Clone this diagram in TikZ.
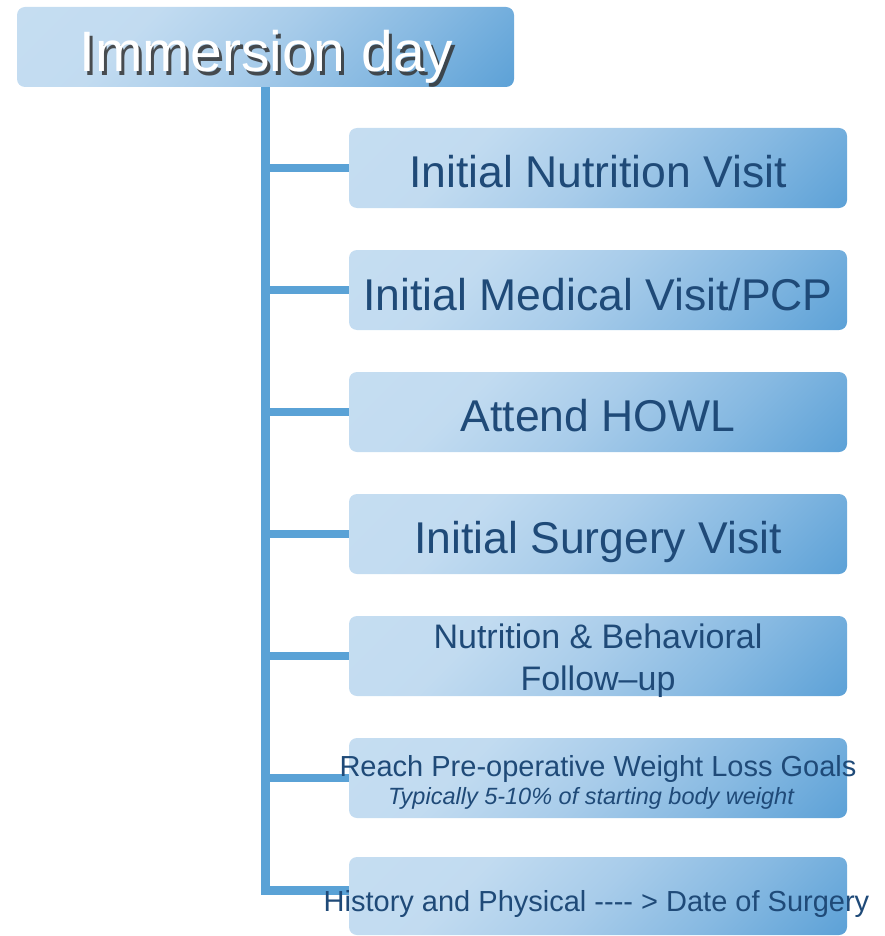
\documentclass[tikz,border=0pt]{standalone}
\usepackage{fontspec}
\setmainfont{Liberation Sans}
\definecolor{boxlight}{HTML}{C8DFF2}
\definecolor{boxmid}{HTML}{A8CCEA}
\definecolor{boxdark}{HTML}{559DD5}
\definecolor{linecol}{HTML}{5AA2D6}
\definecolor{txtcol}{HTML}{1F4A78}
\pgfdeclareverticalshading{boxshade}{100bp}{color(0bp)=(boxdark); color(15bp)=(boxdark!90!boxmid); color(33bp)=(boxdark!40!boxmid); color(50bp)=(boxmid); color(68bp)=(boxlight!80!boxmid); color(100bp)=(boxlight)}
\begin{document}
\begin{tikzpicture}[x=1pt,y=-1pt,
  box/.style={rounded corners=8pt, shading=boxshade, shading angle=45, minimum width=498pt, minimum height=80pt, inner sep=0pt, draw=none},
  conn/.style={draw=linecol, line width=9pt},
  stub/.style={draw=linecol, line width=8pt},
  bigtxt/.style={text=txtcol, font=\fontsize{44.5}{50}\selectfont, anchor=base, inner sep=0pt},
  midtxt/.style={text=txtcol, font=\fontsize{34}{42}\selectfont, anchor=base, inner sep=0pt},
  smltxt/.style={text=txtcol, font=\fontsize{29}{32}\selectfont, anchor=base, inner sep=0pt},
  ittxt/.style={text=txtcol, font=\fontsize{23.5}{26}\selectfont\itshape, anchor=base, inner sep=0pt},
  toptxt/.style={text=white, font=\fontsize{57}{62}\selectfont, anchor=base, inner sep=0pt},
  shadowtxt/.style={text=black!80, opacity=0.85, font=\fontsize{57}{62}\selectfont, anchor=base, inner sep=0pt}]
\useasboundingbox (0,0) rectangle (884,936);
% boxes
\node[box, minimum width=497pt] (top) at (265.5,47) {};
\node[box] (b1) at (598,168) {};
\node[box] (b2) at (598,290) {};
\node[box] (b3) at (598,412) {};
\node[box] (b4) at (598,534) {};
\node[box] (b5) at (598,656) {};
\node[box] (b6) at (598,778) {};
\node[box, minimum height=78pt] (b7) at (598,896) {};
% connectors
\draw[conn] (top.south) |- ([yshift=6pt]b7.west);
\foreach \i in {1,...,6} {\draw[stub] (top.south |- b\i.west) -- (b\i.west);}
% texts
\node[shadowtxt] (ts) at (269.5,75.5) {Immersion day};
\node[toptxt] (t0) at (266.5,72) {Immersion day};
\node[bigtxt] (t1) at (598,188) {Initial Nutrition Visit};
\node[bigtxt] (t2) at (598,310) {Initial Medical Visit/PCP};
\node[bigtxt] (t3) at (598,431) {Attend HOWL};
\node[bigtxt] (t4) at (598,553) {Initial Surgery Visit};
\node[midtxt] (t5a) at (598,648) {Nutrition \& Behavioral};
\node[midtxt] (t5b) at (598,690) {Follow–up};
\node[smltxt] (t6a) at (598,776) {Reach Pre-operative Weight Loss Goals};
\node[ittxt] (t6b) at (591,804) {Typically 5-10\% of starting body weight};
\node[smltxt] (t7) at (596.5,911) {History and Physical {-}{-}{-}{-} > Date of Surgery};
\end{tikzpicture}
\end{document}
